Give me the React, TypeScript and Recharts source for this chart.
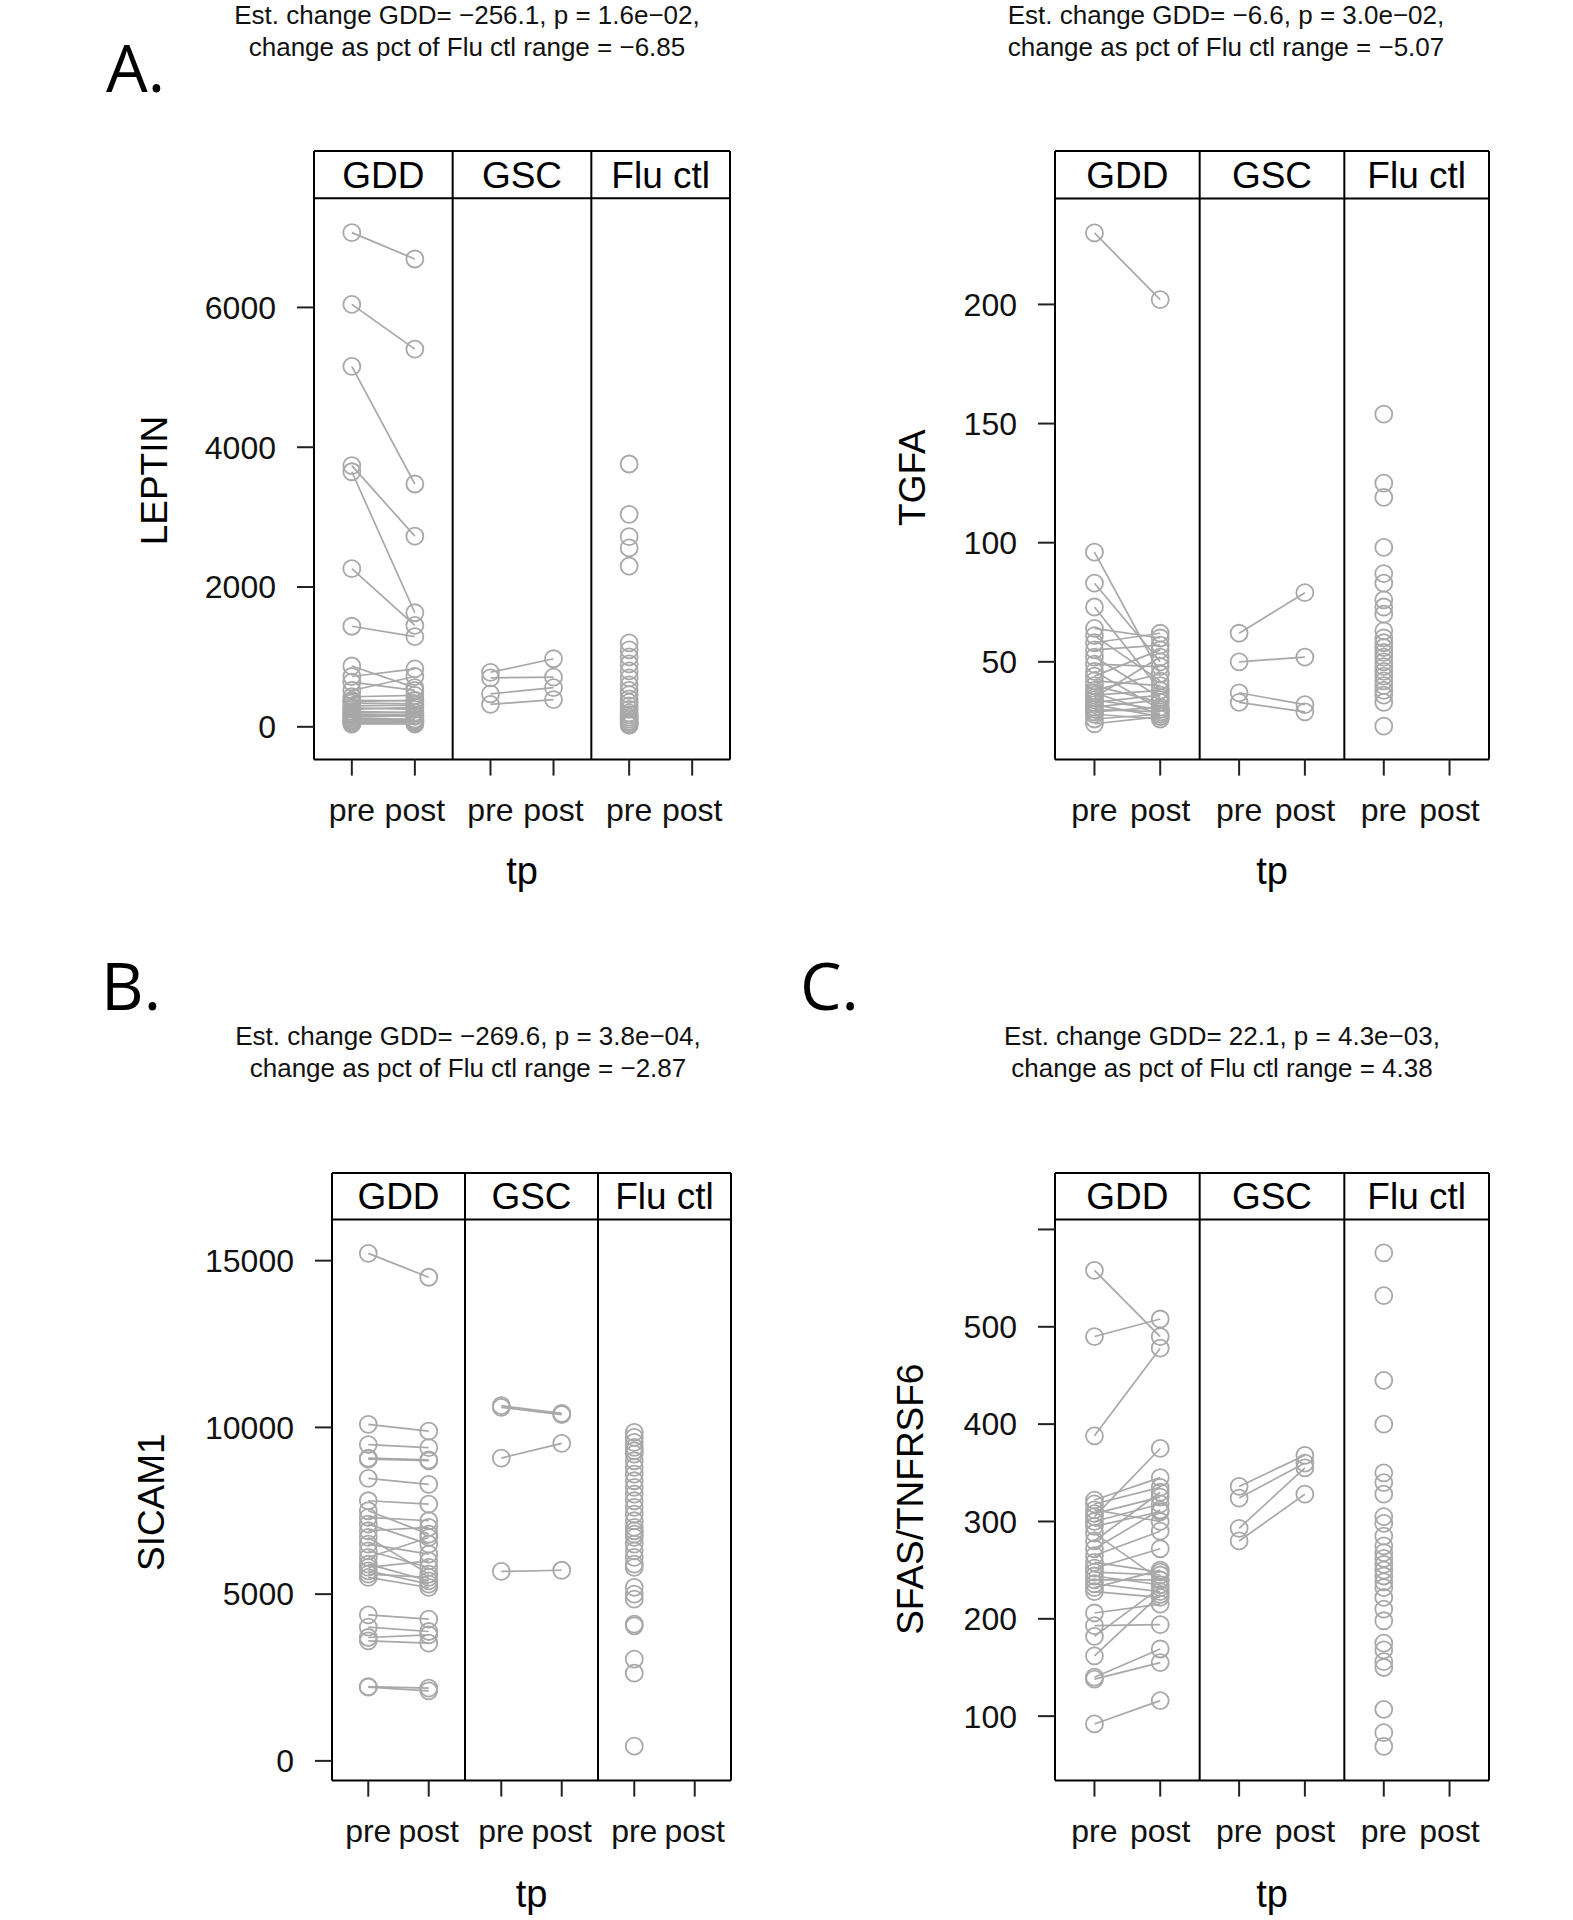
import React from 'react'
import {
  ReferenceArea,
  ReferenceLine,
  Scatter,
  ScatterChart,
  XAxis,
  YAxis,
} from 'recharts'

// LEPTIN
const leptinGddPre = [7070, 6044, 5158, 3737, 3649, 2263, 1439, 870, 720, 640, 520, 430, 380, 360, 340, 300, 270, 250, 220, 200, 180, 160, 140, 120, 100, 90, 80, 60, 50, 40]
const leptinGddPost = [6693, 5404, 3474, 2728, 1632, 1450, 1290, 560, 830, 520, 720, 450, 370, 380, 330, 310, 250, 280, 200, 210, 170, 150, 160, 110, 100, 80, 90, 70, 50, 40]
const leptinGscPre = [780, 700, 470, 320]
const leptinGscPost = [974, 710, 560, 390]
const leptinFlu = [3760, 3040, 2720, 2560, 2300, 1200, 1100, 1000, 900, 800, 700, 600, 520, 460, 400, 350, 300, 250, 200, 170, 140, 110, 80, 60, 40, 20]

// TGFA
const tgfaGddPre = [230, 96, 83, 73, 64, 61, 58, 55, 52, 49, 46, 44, 42, 40, 38, 37, 36, 35, 34, 33, 32, 31, 30, 29, 28, 26, 24]
const tgfaGddPost = [202, 45, 50, 38, 60, 42, 62, 57, 35, 48, 30, 55, 40, 33, 45, 28, 38, 52, 30, 36, 27, 34, 29, 31, 26, 28, 27]
const tgfaGscPre = [62, 50, 37, 33]
const tgfaGscPost = [79, 52, 32, 29]
const tgfaFlu = [154, 125, 119, 98, 87, 83, 76, 73, 70, 63, 60, 58, 56, 54, 52, 50, 48, 46, 44, 42, 40, 38, 36, 33, 23]

// SICAM1
const sicamGddPre = [15219, 10091, 9484, 9080, 9050, 8473, 7800, 7500, 7300, 7100, 6900, 6700, 6500, 6300, 6100, 5900, 5800, 5700, 5500, 5600, 4380, 4010, 3700, 3600, 2224, 2210]
const sicamGddPost = [14502, 9888, 9392, 9025, 9000, 8289, 7700, 6800, 7200, 6500, 7000, 5600, 6200, 5800, 6700, 5400, 6000, 5300, 5200, 5500, 4250, 3880, 3780, 3530, 2180, 2100]
const sicamGscPre = [10650, 10600, 9080, 5680]
const sicamGscPost = [10420, 10380, 9521, 5716]
const sicamFlu = [9850, 9700, 9550, 9400, 9300, 9200, 9000, 8800, 8600, 8400, 8200, 8000, 7800, 7600, 7400, 7200, 7000, 6900, 6800, 6700, 6500, 6300, 6100, 5900, 5800, 5200, 5000, 4850, 4100, 4050, 3050, 2630, 440]

// SFAS/TNFRSF6
const sfasGddPre = [558, 490, 388, 305, 322, 318, 312, 308, 300, 295, 288, 280, 272, 265, 258, 252, 248, 244, 240, 236, 232, 228, 206, 193, 182, 162, 140, 138, 92]
const sfasGddPost = [490, 508, 478, 375, 345, 335, 300, 325, 318, 310, 240, 330, 312, 290, 248, 272, 245, 235, 240, 228, 250, 222, 215, 194, 232, 225, 169, 155, 116]
const sfasGscPre = [336, 324, 293, 280]
const sfasGscPost = [368, 360, 355, 328]
const sfasFlu = [576, 532, 445, 400, 350, 340, 328, 305, 298, 285, 275, 268, 262, 256, 250, 244, 238, 232, 222, 210, 198, 175, 168, 156, 150, 107, 83, 69]

const groups = ['GDD', 'GSC', 'Flu ctl']
const timepoints = ['pre', 'post']

const GRAY = '#a8a8a8'
const FONT = '"Liberation Sans", Arial, sans-serif'
// each group gets 2.2 units of x, pre at +0.6, post at +1.6
const GW = 2.2
const xTicks = [0.6, 1.6, 2.8, 3.8, 5.0, 6.0]

type PanelCfg = {
  left: number
  right: number
  top: number
  bottom: number
  domain: [number, number]
  stripVal: number
  ticks: number[]
  hideTick?: number
  yLabel: string
  yLabelX: number
  yLabelY: number
  tpY: number
  gddPre: number[]
  gddPost: number[]
  gscPre: number[]
  gscPost: number[]
  flu: number[]
}

const renderRing = (p: any) => {
  if (p.cx == null || p.cy == null) return <g />
  return <circle cx={p.cx} cy={p.cy} r={8.5} fill="none" stroke={GRAY} strokeWidth={1.8} />
}

// axis title drawn at a fixed spot in the chart's svg
function AxisTitle(props: any) {
  const { px, py, text, size, rotate } = props
  return (
    <text
      x={px}
      y={py}
      textAnchor="middle"
      fontSize={size}
      fill="#000"
      fontFamily={FONT}
      transform={rotate ? `rotate(-90 ${px} ${py})` : undefined}
      dy={rotate ? '0.36em' : 0}
    >
      {text}
    </text>
  )
}

function Panel({ cfg }: { cfg: PanelCfg }) {
  const YW = 240
  const TH = 40
  const RW = 40
  const BH = 150
  const boxW = cfg.right - cfg.left
  const boxH = cfg.bottom - cfg.top
  const W = YW + boxW + RW
  const H = TH + boxH + BH
  const chartLeft = cfg.left - YW
  const chartTop = cfg.top - TH

  const pair = (g: number, a: number, b: number) => [
    { x: g * GW + 0.6, y: a },
    { x: g * GW + 1.6, y: b },
  ]
  const gddPairs = cfg.gddPre.map((v, i) => pair(0, v, cfg.gddPost[i]))
  const gscPairs = cfg.gscPre.map((v, i) => pair(1, v, cfg.gscPost[i]))
  const fluPts = cfg.flu.map((v) => ({ x: 2 * GW + 0.6, y: v }))

  const axisLine = { stroke: '#000', strokeWidth: 2 }
  const tickLine = { stroke: '#222', strokeWidth: 2 }

  return (
    <div style={{ position: 'absolute', left: chartLeft, top: chartTop }}>
      <ScatterChart width={W} height={H} margin={{ top: 0, right: 0, bottom: 0, left: 0 }}>
        <XAxis
          xAxisId="b"
          type="number"
          dataKey="x"
          domain={[0, GW * 3]}
          ticks={xTicks}
          interval={0}
          tickFormatter={(_v: number, i: number) => timepoints[i % 2]}
          height={BH}
          tickSize={16}
          tickMargin={23}
          axisLine={axisLine}
          tickLine={tickLine}
          tick={{ fontSize: 32, fill: '#111', fontFamily: FONT }}
          label={<AxisTitle px={(cfg.left + cfg.right) / 2 - chartLeft} py={cfg.tpY - chartTop} text="tp" size={38} />}
        />
        <XAxis
          xAxisId="t"
          orientation="top"
          type="number"
          dataKey="x"
          domain={[0, GW * 3]}
          ticks={xTicks}
          interval={0}
          height={TH}
          tickSize={15}
          axisLine={axisLine}
          tickLine={tickLine}
          tick={false}
        />
        <YAxis
          yAxisId="l"
          type="number"
          dataKey="y"
          domain={cfg.domain}
          ticks={cfg.ticks}
          interval={0}
          width={YW}
          tickSize={17}
          tickMargin={21}
          axisLine={axisLine}
          tickLine={tickLine}
          tickFormatter={(v: number) => (v === cfg.hideTick ? '' : String(v))}
          tick={{ fontSize: 32, fill: '#111', fontFamily: FONT }}
          label={<AxisTitle px={cfg.yLabelX - chartLeft} py={cfg.yLabelY - chartTop} text={cfg.yLabel} size={37} rotate />}
        />
        <YAxis
          yAxisId="r"
          orientation="right"
          type="number"
          dataKey="y"
          domain={cfg.domain}
          ticks={cfg.ticks}
          interval={0}
          width={RW}
          tickSize={18}
          axisLine={axisLine}
          tickLine={tickLine}
          tick={false}
        />

        {groups.map((g, i) => (
          <ReferenceArea
            key={g}
            xAxisId="b"
            yAxisId="l"
            x1={i * GW}
            x2={(i + 1) * GW}
            y1={cfg.stripVal}
            y2={cfg.domain[1]}
            fill="#fff"
            fillOpacity={0}
            stroke="none"
            label={{ value: g, position: 'center', fontSize: 37, fill: '#000', fontFamily: FONT }}
          />
        ))}
        <ReferenceLine xAxisId="b" yAxisId="l" y={cfg.stripVal} stroke="#000" strokeWidth={2} />
        <ReferenceLine xAxisId="b" yAxisId="l" x={GW} stroke="#000" strokeWidth={2} />
        <ReferenceLine xAxisId="b" yAxisId="l" x={GW * 2} stroke="#000" strokeWidth={2} />

        {[...gddPairs, ...gscPairs].map((d, i) => (
          <Scatter
            key={'p' + i}
            xAxisId="b"
            yAxisId="l"
            data={d}
            line={{ stroke: GRAY, strokeWidth: 1.7 }}
            shape={renderRing}
            isAnimationActive={false}
          />
        ))}
        <Scatter xAxisId="b" yAxisId="l" data={fluPts} shape={renderRing} isAnimationActive={false} />
      </ScatterChart>
    </div>
  )
}

const panels: PanelCfg[] = [
  {
    left: 314, right: 730, top: 151.4, bottom: 760,
    domain: [-469, 8238], stripVal: 7562, ticks: [0, 2000, 4000, 6000],
    yLabel: 'LEPTIN', yLabelX: 154, yLabelY: 481, tpY: 884,
    gddPre: leptinGddPre, gddPost: leptinGddPost, gscPre: leptinGscPre, gscPost: leptinGscPost, flu: leptinFlu,
  },
  {
    left: 1055, right: 1489, top: 151.4, bottom: 760,
    domain: [8.96, 264.4], stripVal: 244.5, ticks: [50, 100, 150, 200],
    yLabel: 'TGFA', yLabelX: 912, yLabelY: 478, tpY: 884,
    gddPre: tgfaGddPre, gddPost: tgfaGddPost, gscPre: tgfaGscPre, gscPost: tgfaGscPost, flu: tgfaFlu,
  },
  {
    left: 332, right: 731, top: 1172.8, bottom: 1780.4,
    domain: [-591, 17628], stripVal: 16233, ticks: [0, 5000, 10000, 15000],
    yLabel: 'SICAM1', yLabelX: 151, yLabelY: 1502, tpY: 1907,
    gddPre: sicamGddPre, gddPost: sicamGddPost, gscPre: sicamGscPre, gscPost: sicamGscPost, flu: sicamFlu,
  },
  {
    left: 1055, right: 1489, top: 1172.8, bottom: 1780.4,
    domain: [33.8, 658], stripVal: 610.2, ticks: [100, 200, 300, 400, 500, 600], hideTick: 600,
    yLabel: 'SFAS/TNFRSF6', yLabelX: 910, yLabelY: 1499, tpY: 1907,
    gddPre: sfasGddPre, gddPost: sfasGddPost, gscPre: sfasGscPre, gscPost: sfasGscPost, flu: sfasFlu,
  },
]

const titles = [
  { x: 467, y: 23.5, lines: ['Est. change GDD= \u2212256.1, p = 1.6e\u221202,', 'change as pct of Flu ctl range = \u22126.85'] },
  { x: 1226, y: 23.5, lines: ['Est. change GDD= \u22126.6, p = 3.0e\u221202,', 'change as pct of Flu ctl range = \u22125.07'] },
  { x: 468, y: 1044.6, lines: ['Est. change GDD= \u2212269.6, p = 3.8e\u221204,', 'change as pct of Flu ctl range = \u22122.87'] },
  { x: 1222, y: 1044.6, lines: ['Est. change GDD= 22.1, p = 4.3e\u221203,', 'change as pct of Flu ctl range = 4.38'] },
]

const letters = [
  { t: 'A.', x: 106, y: 92 },
  { t: 'B.', x: 101, y: 1010 },
  { t: 'C.', x: 800, y: 1010 },
]

export default function App() {
  return (
    <div style={{ position: 'absolute', left: 0, top: 0, width: 1573, height: 1920, background: '#fff', fontFamily: FONT }}>
      <svg width={1573} height={1920} style={{ position: 'absolute', left: 0, top: 0 }}>
        {titles.map((t, i) => (
          <g key={i}>
            {t.lines.map((l, j) => (
              <text key={j} x={t.x} y={t.y + j * 32} textAnchor="middle" fontSize={26} fill="#111" fontFamily={FONT}>
                {l}
              </text>
            ))}
          </g>
        ))}
        {letters.map((l) => (
          <text key={l.t} x={l.x} y={l.y} fontSize={66} fill="#000" fontFamily='"Open Sans", sans-serif'>
            {l.t}
          </text>
        ))}
      </svg>
      {panels.map((p, i) => (
        <Panel key={i} cfg={p} />
      ))}
    </div>
  )
}
